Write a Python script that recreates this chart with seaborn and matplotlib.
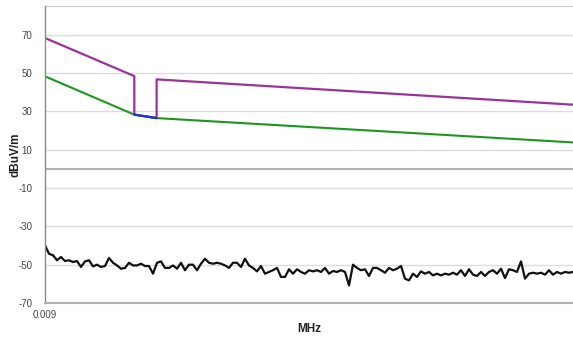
import numpy as np
import pandas as pd
import matplotlib
matplotlib.use("Agg")
import matplotlib.pyplot as plt
import seaborn as sns

# --- data (MHz, dBuV/m) ---
x_min, x_max = 0.009, 30.0
limit_upper_f = [0.009, 0.0355, 0.0355, 0.050, 0.050, 30.0]
limit_upper_v = [68.3, 48.4, 28.3, 26.5, 46.7, 33.5]
limit_lower_f = [0.009, 0.0355, 0.050, 30.0]
limit_lower_v = [48.3, 28.3, 26.5, 13.8]
limit_mid_f = [0.0355, 0.050]
limit_mid_v = [28.3, 26.5]
noise_v = [
    -39.9, -44.3, -45.1, -47.7, -46.0, -48.1, -47.7, -48.6, -48.1, -51.2, -48.3, -47.7,
    -50.9, -50.0, -51.2, -50.7, -46.5, -49.0, -50.4, -52.1, -51.7, -49.0, -50.4,
    -50.4, -49.5, -50.7, -50.7, -54.7, -49.0, -48.3, -51.7, -51.7, -50.4, -52.1, -49.0,
    -52.9, -50.0, -50.0, -52.9, -49.5, -46.9, -49.0, -49.5, -49.0, -49.5, -50.4,
    -51.7, -49.0, -49.0, -51.2, -46.9, -50.4, -51.7, -53.5, -50.7, -54.7, -53.8, -52.9,
    -51.7, -56.4, -56.4, -52.4, -54.7, -52.4, -53.8, -54.7, -52.9,
    -53.5, -52.9, -53.8, -51.7, -54.7, -53.3, -53.8, -52.9, -53.8, -60.8, -50.0, -51.7,
    -52.9, -52.4, -55.9, -51.7, -51.7, -52.9, -54.2, -51.7, -52.9, -52.1, -50.7, -57.3,
    -58.2, -54.7, -56.4, -53.5, -54.7, -53.8, -55.6, -54.7, -55.6, -54.7, -55.2, -54.2,
    -55.2, -52.9, -55.9, -52.4, -55.2, -55.9, -53.8, -55.9, -53.8, -52.9,
    -54.7, -52.1, -57.0, -52.4, -52.9, -53.8, -48.3, -57.3, -54.7, -54.2, -54.7, -54.2,
    -55.2, -52.9, -55.2, -53.8, -54.7, -53.8, -54.2, -53.8,
]
y_ticks = [70, 50, 30, 10, -10, -30, -50, -70]
x_tick_labels = ["0.009"]

noise_f = np.geomspace(x_min, x_max, len(noise_v))

W, H = 573, 340
fig = plt.figure(figsize=(W / 100, H / 100), dpi=100)
sns.set_style("white")
plt.rcParams["font.family"] = ["Liberation Sans", "DejaVu Sans"]
ax = fig.add_axes([45 / W, 1 - 303 / H, 1 - 45 / W, (303 - 6) / H])

y_top = 85.0
for yt in y_ticks[:-1]:
    ax.axhline(yt, color="#dcdcdc", lw=1.0, zorder=0)
ax.axhline(y_top, color="#d0d0d0", lw=1.5, zorder=0)
ax.axhline(0, color="#b0b0b0", lw=1.5, zorder=0.5)

df_u = pd.DataFrame({"f": limit_upper_f, "v": limit_upper_v})
df_l = pd.DataFrame({"f": limit_lower_f, "v": limit_lower_v})
df_m = pd.DataFrame({"f": limit_mid_f, "v": limit_mid_v})
df_n = pd.DataFrame({"f": noise_f, "v": noise_v})

sns.lineplot(data=df_u, x="f", y="v", ax=ax, color="#993399", lw=1.6, sort=False, estimator=None)
sns.lineplot(data=df_l, x="f", y="v", ax=ax, color="#1e961e", lw=1.5, sort=False, estimator=None)
sns.lineplot(data=df_m, x="f", y="v", ax=ax, color="#1f2fe0", lw=1.6, sort=False, estimator=None)
sns.lineplot(data=df_n, x="f", y="v", ax=ax, color="#111111", lw=1.6, sort=False, estimator=None)

ax.set_xscale("log")
ax.set_xlim(x_min, x_max)
ax.set_ylim(-70, y_top)
ax.set_xticks([x_min])
ax.set_xticklabels(x_tick_labels)
ax.xaxis.set_minor_locator(matplotlib.ticker.NullLocator())
ax.set_yticks(y_ticks)
ax.set_yticklabels([str(v) for v in y_ticks])
ax.tick_params(axis="both", length=0, labelsize=7, colors="#444444")
ax.tick_params(axis="y", pad=9)
ax.tick_params(axis="x", pad=5)

for s in ["top", "right"]:
    ax.spines[s].set_visible(False)
ax.spines["left"].set_color("#8a8a8a")
ax.spines["bottom"].set_color("#b0b0b0")
ax.spines["left"].set_linewidth(1.0)
ax.spines["bottom"].set_linewidth(1.5)

ax.set_xlabel("MHz", fontsize=8.5, fontweight="bold", color="#222222")
ax.set_ylabel("dBuV/m", fontsize=8.5, fontweight="bold", color="#222222")
ax.xaxis.set_label_coords(0.5, -0.068)
ax.yaxis.set_label_coords(-0.044, 0.5)

fig.savefig("out.png", dpi=100)
